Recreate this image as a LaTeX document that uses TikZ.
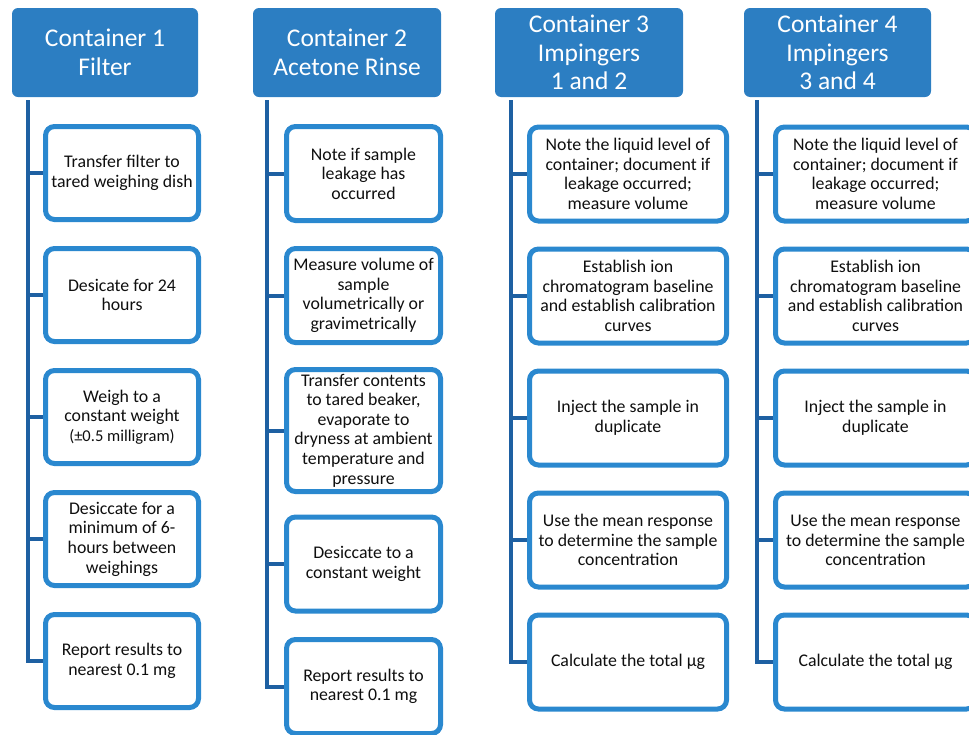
\documentclass[tikz,border=0pt]{standalone}
\usepackage{fontspec}
\setmainfont{Carlito}
\definecolor{hdrblue}{RGB}{44,126,194}
\definecolor{boxblue}{RGB}{42,136,207}
\definecolor{trunkblue}{RGB}{30,96,162}
\definecolor{txt}{RGB}{15,15,15}
\tikzset{
  hdr/.style={fill=hdrblue, draw=none, rounded corners=6pt, text=white, align=center,
    font=\fontsize{25.5}{28.5}\selectfont, minimum height=89pt, inner sep=0pt},
  stepbox/.style={draw=boxblue, line width=5pt, rounded corners=9pt, fill=white, text=txt,
    align=center, font=\fontsize{17.8}{19.6}\selectfont, inner sep=0pt},
  trunk/.style={draw=trunkblue, line width=4pt},
}
\begin{document}
\begin{tikzpicture}[x=1pt,y=-1pt]
\useasboundingbox (0,0) rectangle (969,734);
% headers
\node[hdr, minimum width=186pt] (h1) at (105,52.5) {Container 1\\Filter};
\node[hdr, minimum width=188pt] (h2) at (347,52.5) {Container 2\\Acetone Rinse};
\node[hdr, minimum width=188pt] (h3) at (589,52.5) {Container 3\\Impingers\\1 and 2};
\node[hdr, minimum width=187pt] (h4) at (837.5,52.5) {Container 4\\Impingers\\3 and 4};
% trunk start coordinates
\coordinate (t1) at (28,100);
\coordinate (t2) at (267,100);
\coordinate (t3) at (511,100);
\coordinate (t4) at (757,100);
% column 1
\begin{scope}[every node/.append style={minimum width=153pt, minimum height=93pt}]
\node[stepbox] (a1) at (122,173) {Transfer filter to\\tared weighing dish};
\node[stepbox] (a2) at (122,295) {Desicate for 24\\hours};
\node[stepbox] (a3) at (122,417) {Weigh to a\\constant weight\\{\fontsize{16.5}{19.6}\selectfont(±0.5 milligram)}};
\node[stepbox] (a4) at (122,539) {Desiccate for a\\minimum of 6-\\hours between\\weighings};
\node[stepbox] (a5) at (122,661) {Report results to\\nearest 0.1 mg};
\end{scope}
% column 2
\begin{scope}[every node/.append style={minimum width=154pt, minimum height=94pt}]
\node[stepbox] (b1) at (363.5,173.5) {Note if sample\\leakage has\\occurred};
\node[stepbox] (b2) at (363.5,295.5) {Measure volume of\\sample\\volumetrically or\\gravimetrically};
\node[stepbox, minimum height=122pt] (b3) at (363.5,430.5) {Transfer contents\\to tared beaker,\\evaporate to\\dryness at ambient\\temperature and\\pressure};
\node[stepbox] (b4) at (363.5,564) {Desiccate to a\\constant weight};
\node[stepbox] (b5) at (363.5,686.5) {Report results to\\nearest 0.1 mg};
\end{scope}
% column 3
\begin{scope}[every node/.append style={minimum width=197pt, minimum height=94pt}]
\node[stepbox] (c1) at (628,174) {Note the liquid level of\\container; document if\\leakage occurred;\\measure volume};
\node[stepbox] (c2) at (628,296) {Establish ion\\chromatogram baseline\\and establish calibration\\curves};
\node[stepbox] (c3) at (628,418) {Inject the sample in\\duplicate};
\node[stepbox] (c4) at (628,540) {Use the mean response\\to determine the sample\\concentration};
\node[stepbox] (c5) at (628,662) {Calculate the total µg};
\end{scope}
% column 4
\begin{scope}[every node/.append style={minimum width=200pt, minimum height=94pt}]
\node[stepbox] (d1) at (875.5,174) {Note the liquid level of\\container; document if\\leakage occurred;\\measure volume};
\node[stepbox] (d2) at (875.5,296) {Establish ion\\chromatogram baseline\\and establish calibration\\curves};
\node[stepbox] (d3) at (875.5,418) {Inject the sample in\\duplicate};
\node[stepbox] (d4) at (875.5,540) {Use the mean response\\to determine the sample\\concentration};
\node[stepbox] (d5) at (875.5,662) {Calculate the total µg};
\end{scope}
% connectors
\draw[trunk] (t1) |- (a5.west);
\foreach \n in {a1,a2,a3,a4} \draw[trunk] (t1 |- \n.west) -- (\n.west);
\draw[trunk] (t2) |- (b5.west);
\foreach \n in {b1,b2,b3,b4} \draw[trunk] (t2 |- \n.west) -- (\n.west);
\draw[trunk] (t3) |- (c5.west);
\foreach \n in {c1,c2,c3,c4} \draw[trunk] (t3 |- \n.west) -- (\n.west);
\draw[trunk] (t4) |- (d5.west);
\foreach \n in {d1,d2,d3,d4} \draw[trunk] (t4 |- \n.west) -- (\n.west);
\end{tikzpicture}
\end{document}
